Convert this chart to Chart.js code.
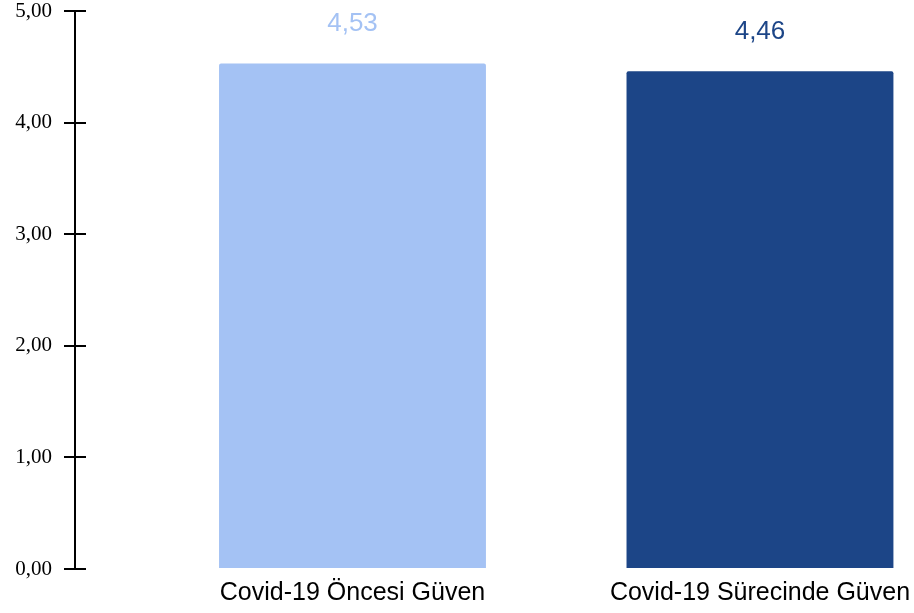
<!DOCTYPE html>
<html lang="tr">
<head>
<meta charset="utf-8">
<title>Covid-19 Güven</title>
<script src="https://cdn.jsdelivr.net/npm/chart.js@4/dist/chart.umd.min.js"></script>
<style>
  html, body { margin: 0; padding: 0; background: #fff; }
  #wrap { width: 914px; height: 613px; }
</style>
</head>
<body>
<div id="wrap"><canvas id="guvenChart" width="914" height="613"></canvas></div>
<script>
// Ortalama güven puanları
const categories = ['Covid-19 Öncesi Güven', 'Covid-19 Sürecinde Güven'];
const values = [4.53, 4.46];
const yTicks = [0, 1, 2, 3, 4, 5];

const barColors = ['#a4c2f4', '#1c4587'];

// Türkçe ondalık gösterimi: 4.53 -> "4,53"
const fmt = v => v.toFixed(2).replace('.', ',');

// Değer etiketlerini sütunların üstüne yazar
const valueLabels = {
    id: 'valueLabels',
    afterDatasetsDraw(chart) {
        const ctx = chart.ctx;
        const meta = chart.getDatasetMeta(0);
        ctx.save();
        ctx.font = '26px "Liberation Sans", Arial, sans-serif';
        ctx.textAlign = 'center';
        ctx.textBaseline = 'alphabetic';
        meta.data.forEach((bar, i) => {
            ctx.fillStyle = barColors[i];
            ctx.fillText(fmt(values[i]), bar.x, bar.y - 32);
        });
        ctx.restore();
    }
};

// Y ekseninin sağ tarafına da kısa çentik çizer
const innerTicks = {
    id: 'innerTicks',
    afterDraw(chart) {
        const y = chart.scales.y;
        const ctx = chart.ctx;
        const left = chart.chartArea.left;
        ctx.save();
        ctx.strokeStyle = '#000';
        ctx.lineWidth = 2;
        y.ticks.forEach((t, i) => {
            const py = Math.round(y.getPixelForTick(i));
            ctx.beginPath();
            ctx.moveTo(left, py);
            ctx.lineTo(left + 11, py);
            ctx.stroke();
        });
        ctx.restore();
    }
};

Chart.defaults.font.family = '"Liberation Sans", Arial, sans-serif';
Chart.defaults.color = '#000';

new Chart(document.getElementById('guvenChart'), {
    type: 'bar',
    data: {
        datasets: [{
            data: values.map((v, i) => ({ x: i, y: v })),
            backgroundColor: barColors,
            borderRadius: 2,
            categoryPercentage: 1,
            barPercentage: 0.655
        }]
    },
    options: {
        responsive: false,
        animation: false,
        layout: { padding: { top: 11, right: 0, bottom: 5, left: 0 } },
        plugins: {
            legend: { display: false },
            tooltip: { enabled: false }
        },
        scales: {
            x: {
                type: 'linear',
                offset: false,
                min: -0.681,
                max: 1.378,
                afterFit(scale) {
                    scale.height = 39;
                    scale.paddingLeft = 0;
                    scale.paddingRight = 0;
                },
                grid: { display: false, drawTicks: false },
                border: { display: false },
                ticks: {
                    stepSize: 1,
                    includeBounds: false,
                    maxRotation: 0,
                    autoSkip: false,
                    padding: 9,
                    font: { size: 25 },
                    callback: v => categories[v] ?? ''
                }
            },
            y: {
                min: yTicks[0],
                max: yTicks[yTicks.length - 1],
                afterFit(scale) {
                    scale.width = 75;
                    scale.paddingTop = 0;
                    scale.paddingBottom = 0;
                },
                grid: {
                    drawOnChartArea: false,
                    tickLength: 11,
                    color: '#000',
                    lineWidth: 2
                },
                border: { color: '#000', width: 2 },
                ticks: {
                    stepSize: 1,
                    padding: 12,
                    font: { family: '"Liberation Serif", "Times New Roman", serif', size: 21 },
                    callback: v => fmt(v)
                }
            }
        }
    },
    plugins: [valueLabels, innerTicks]
});
</script>
</body>
</html>
